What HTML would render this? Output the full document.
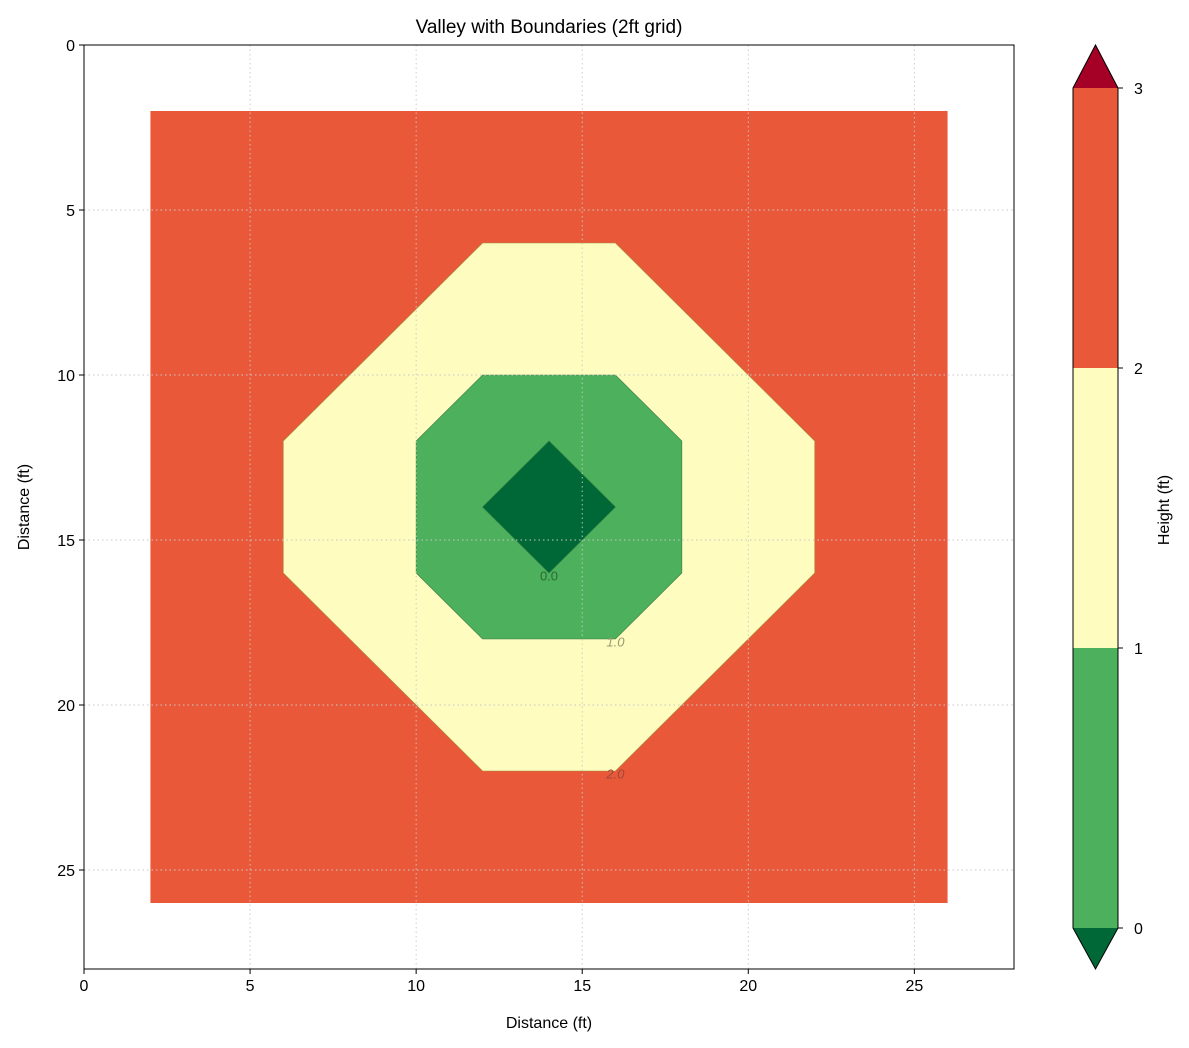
<!DOCTYPE html>
<html><head><meta charset="utf-8"><style>
body{margin:0;background:#fff;}
svg{display:block;font-family:"Liberation Sans","DejaVu Sans",sans-serif;}
</style></head><body>
<svg id="chart" width="1189" height="1048" viewBox="0 0 1189 1048"></svg>
<script>
const xTicks=[0,5,10,15,20,25];
const yTicks=[0,5,10,15,20,25];
const cbLevels=[0,1,2,3];
const regionRed=[[2,2],[26,2],[26,26],[2,26]];
const regionYellow=[[12,6],[16,6],[22,12],[22,16],[16,22],[12,22],[6,16],[6,12]];
const regionGreen=[[12,10],[16,10],[18,12],[18,16],[16,18],[12,18],[10,16],[10,12]];
const regionDark=[[14,12],[16,14],[14,16],[12,14]];
const contourLabels=["0.0","1.0","2.0"];
const labelPos=[[14,16.1],[16,18.1],[16,22.1]];

const X0=84,X1=1014,Y0=45,Y1=969,XMAX=28,YMAX=28;
const sx=v=>X0+v*(X1-X0)/XMAX;
const sy=v=>Y0+v*(Y1-Y0)/YMAX;
const svg=document.getElementById('chart');
const NS='http://www.w3.org/2000/svg';
function mk(t,a,p){const e=document.createElementNS(NS,t);for(const k in a)e.setAttribute(k,a[k]);(p||svg).appendChild(e);return e;}
const pts=r=>r.map(p=>sx(p[0])+','+sy(p[1])).join(' ');

let e;
e=mk('rect',{x:X0,y:Y0,width:X1-X0,height:Y1-Y0,fill:'#fff'});


const regions=[[regionRed,'#ea583a','none','region-red'],[regionYellow,'#fefcbf','#a0903a','region-yellow'],[regionGreen,'#4cb05c','#3a7a40','region-green'],[regionDark,'#006837','#2f7a3f','region-dark-green']];
regions.forEach(r=>{
 e=mk('polygon',{points:pts(r[0]),fill:r[1],stroke:r[2],'stroke-width':0.6});
 
 
});
xTicks.slice(1).forEach(t=>{e=mk('line',{x1:sx(t),x2:sx(t),y1:Y0,y2:Y1,stroke:'#c8c8c8','stroke-width':0.9,'stroke-dasharray':'1.5,3'});
 
 });
yTicks.slice(1).forEach(t=>{e=mk('line',{x1:X0,x2:X1,y1:sy(t),y2:sy(t),stroke:'#c8c8c8','stroke-width':0.9,'stroke-dasharray':'1.5,3'});
 
 });
const lblCol=['#2a6a35','#9a9a70','#9a4a3a'];
contourLabels.forEach((s,i)=>{e=mk('text',{x:sx(labelPos[i][0]),y:sy(labelPos[i][1])+4,'font-size':13,fill:lblCol[i],'text-anchor':'middle','font-style':i?'italic':'normal'});e.textContent=s;
 
 });
e=mk('rect',{x:X0,y:Y0,width:X1-X0,height:Y1-Y0,fill:'none',stroke:'#000','stroke-width':1});


xTicks.forEach(t=>{mk('line',{x1:sx(t),x2:sx(t),y1:Y1,y2:Y1+5,stroke:'#000'});
 e=mk('text',{x:sx(t),y:Y1+22,'font-size':16,'text-anchor':'middle'});e.textContent=t;
 
 });
yTicks.forEach(t=>{mk('line',{x1:X0-5,x2:X0,y1:sy(t),y2:sy(t),stroke:'#000'});
 e=mk('text',{x:X0-9,y:sy(t)+6,'font-size':16,'text-anchor':'end'});e.textContent=t;
 
 });
e=mk('text',{x:549,y:33,'font-size':19,'text-anchor':'middle'});e.textContent='Valley with Boundaries (2ft grid)';


e=mk('text',{x:549,y:1028,'font-size':16,'text-anchor':'middle'});e.textContent='Distance (ft)';


e=mk('text',{x:29,y:507,'font-size':16,'text-anchor':'middle',transform:'rotate(-90 29 507)'});e.textContent='Distance (ft)';


const CX0=1073,CX1=1118,CT=88,CB=928;
const cy=v=>CB-(v-cbLevels[0])*(CB-CT)/(cbLevels[cbLevels.length-1]-cbLevels[0]);
const cbCols=['#4cb05c','#fefcbf','#ea583a'];
for(let i=0;i<cbLevels.length-1;i++){e=mk('rect',{x:CX0,y:cy(cbLevels[i+1]),width:CX1-CX0,height:cy(cbLevels[i])-cy(cbLevels[i+1]),fill:cbCols[i]});
 
 }
e=mk('polygon',{points:`${CX0},${CT} ${CX1},${CT} ${(CX0+CX1)/2},45`,fill:'#a50026'});


e=mk('polygon',{points:`${CX0},${CB} ${CX1},${CB} ${(CX0+CX1)/2},969`,fill:'#006837'});


e=mk('polygon',{points:`${CX0},${CT} ${(CX0+CX1)/2},45 ${CX1},${CT} ${CX1},${CB} ${(CX0+CX1)/2},969 ${CX0},${CB}`,fill:'none',stroke:'#000','stroke-width':1});


cbLevels.forEach(t=>{mk('line',{x1:CX1,x2:CX1+5,y1:cy(t),y2:cy(t),stroke:'#000'});
 e=mk('text',{x:CX1+16,y:cy(t)+6,'font-size':16});e.textContent=t;
 
 });
e=mk('text',{x:1169,y:510,'font-size':16,'text-anchor':'middle',transform:'rotate(-90 1169 510)'});e.textContent='Height (ft)';


</script>
</body></html>
